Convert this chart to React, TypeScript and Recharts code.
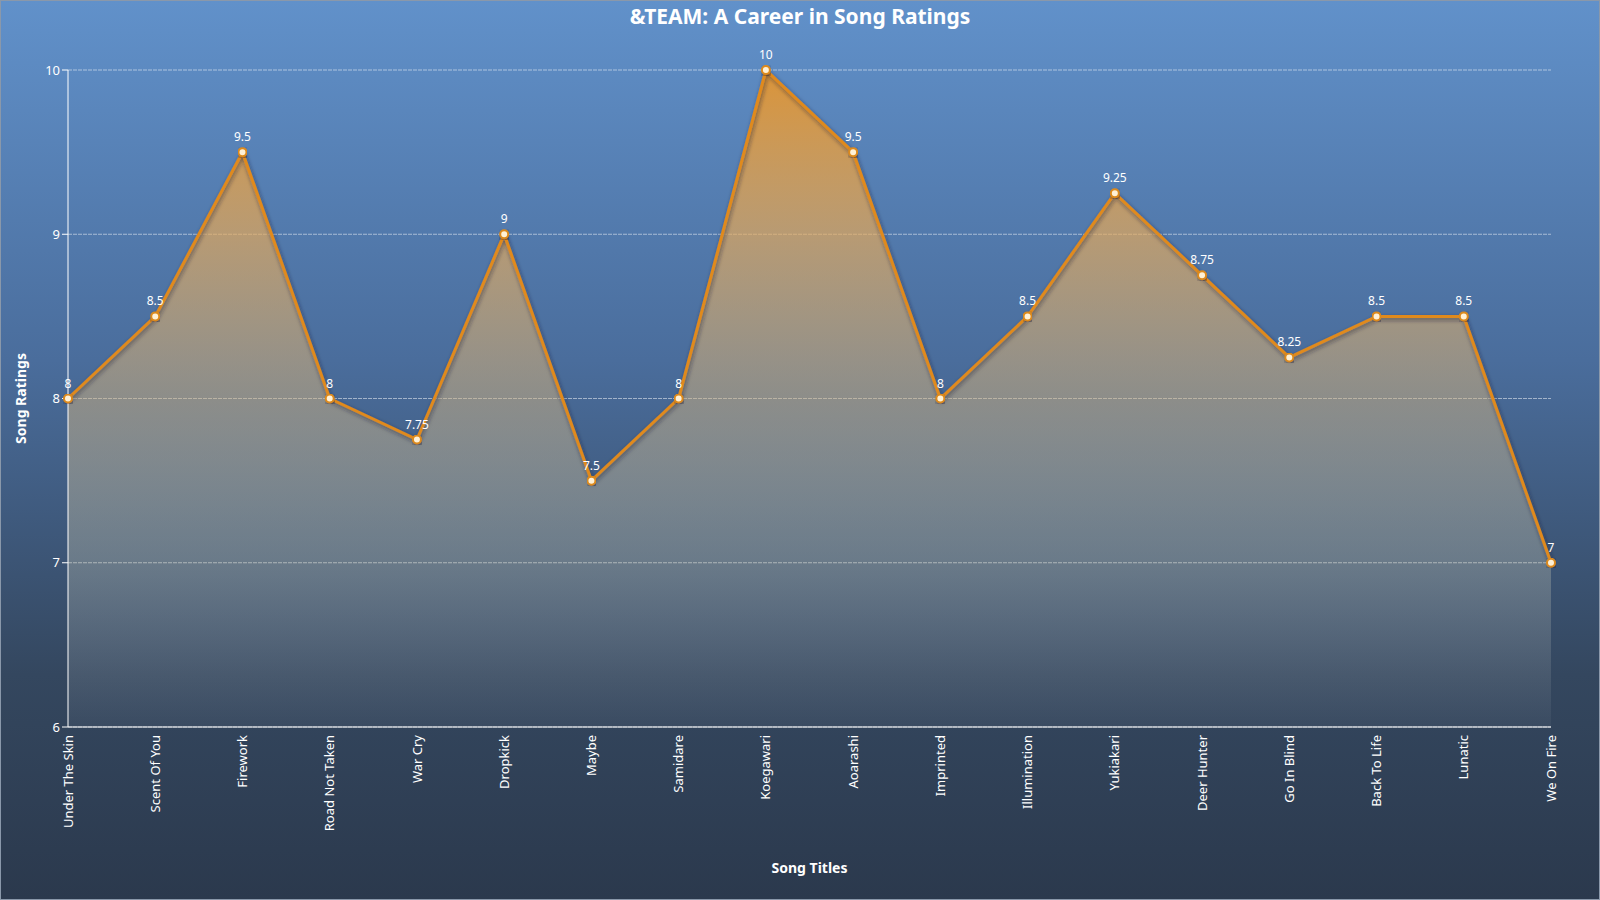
import React from 'react';
import {
  ComposedChart,
  Area,
  Line,
  XAxis,
  YAxis,
  CartesianGrid,
  LabelList,
  Label,
} from 'recharts';

const songs = [
  'Under The Skin',
  'Scent Of You',
  'Firework',
  'Road Not Taken',
  'War Cry',
  'Dropkick',
  'Maybe',
  'Samidare',
  'Koegawari',
  'Aoarashi',
  'Imprinted',
  'Illumination',
  'Yukiakari',
  'Deer Hunter',
  'Go In Blind',
  'Back To Life',
  'Lunatic',
  'We On Fire',
];

const ratings = [8, 8.5, 9.5, 8, 7.75, 9, 7.5, 8, 10, 9.5, 8, 8.5, 9.25, 8.75, 8.25, 8.5, 8.5, 7];

const yTicks = [6, 7, 8, 9, 10];

const data = songs.map((song, i) => ({ song, rating: ratings[i] }));

const FONT = '"Noto Sans", "Open Sans", sans-serif';

// rotated category label, centred on its tick
const SongTick = (props: any) => {
  const { x, y, payload } = props;
  return (
    <g transform={`translate(${x},${y})`}>
      <text
        transform="rotate(-90)"
        textAnchor="end"
        dy="0.35em"
        fill="#ffffff"
        fontSize={13}
        fontFamily={FONT}
      >
        {payload.value}
      </text>
    </g>
  );
};

const App: React.FC = () => {
  return (
    <div
      style={{
        position: 'absolute',
        left: 0,
        top: 0,
        width: 1600,
        height: 900,
        boxSizing: 'border-box',
        border: '1px solid #8a98aa',
        background: 'linear-gradient(180deg, #6191ca 0%, #4a6d9c 40%, #34475f 75%, #2b394d 100%)',
        fontFamily: FONT,
      }}
    >
      <div
        style={{
          position: 'absolute',
          top: 1,
          left: 0,
          width: '100%',
          textAlign: 'center',
          color: '#ffffff',
          fontWeight: 700,
          fontSize: 21,
        }}
      >
        &amp;TEAM: A Career in Song Ratings
      </div>
      <ComposedChart
        width={1598}
        height={898}
        data={data}
        margin={{ top: 69, right: 48, bottom: 26, left: 6 }}
      >
        <defs>
          <linearGradient id="areaFill" x1="0" y1="0" x2="0" y2="1">
            <stop offset="0%" stopColor="#e8952a" stopOpacity={0.9} />
            <stop offset="25%" stopColor="#e8aa58" stopOpacity={0.68} />
            <stop offset="50%" stopColor="#d2b27e" stopOpacity={0.5} />
            <stop offset="75%" stopColor="#d5d2b8" stopOpacity={0.3} />
            <stop offset="100%" stopColor="#d0d4dc" stopOpacity={0.05} />
          </linearGradient>
          <filter id="lineShadow" x="-5%" y="-5%" width="110%" height="120%">
            <feDropShadow dx="1" dy="2" stdDeviation="2" floodColor="#1a2233" floodOpacity="0.6" />
          </filter>
        </defs>
        <CartesianGrid
          vertical={false}
          stroke="#ffffff"
          strokeOpacity={0.5}
          strokeDasharray="4 1"
        />
        <XAxis
          dataKey="song"
          interval={0}
          height={146}
          stroke="#ffffff"
          tickLine={false}
          tickMargin={2}
          tick={<SongTick />}
        >
          <Label
            value="Song Titles"
            position="insideBottom"
            offset={0}
            style={{ fill: '#ffffff', fontWeight: 700, fontSize: 14, fontFamily: FONT }}
          />
        </XAxis>
        <YAxis
          domain={[6, 10]}
          ticks={yTicks}
          width={61}
          stroke="#ffffff"
          tick={{ fill: '#ffffff', fontSize: 13, fontFamily: FONT }}
        >
          <Label
            value="Song Ratings"
            angle={-90}
            position="insideLeft"
            offset={14}
            style={{ fill: '#ffffff', fontWeight: 700, fontSize: 14, fontFamily: FONT, textAnchor: 'middle' }}
          />
        </YAxis>
        <Area
          type="linear"
          dataKey="rating"
          stroke="none"
          fill="url(#areaFill)"
          fillOpacity={1}
          baseValue={6}
          isAnimationActive={false}
        />
        <Line
          type="linear"
          dataKey="rating"
          stroke="#e08a1e"
          strokeWidth={3}
          filter="url(#lineShadow)"
          dot={{ r: 4, fill: '#fff1d6', stroke: '#dc8a1e', strokeWidth: 2 }}
          activeDot={false}
          isAnimationActive={false}
        >
          <LabelList
            dataKey="rating"
            position="top"
            offset={11}
            fill="#ffffff"
            fontSize={12}
            fontFamily={FONT}
          />
        </Line>
      </ComposedChart>
    </div>
  );
};

export default App;
